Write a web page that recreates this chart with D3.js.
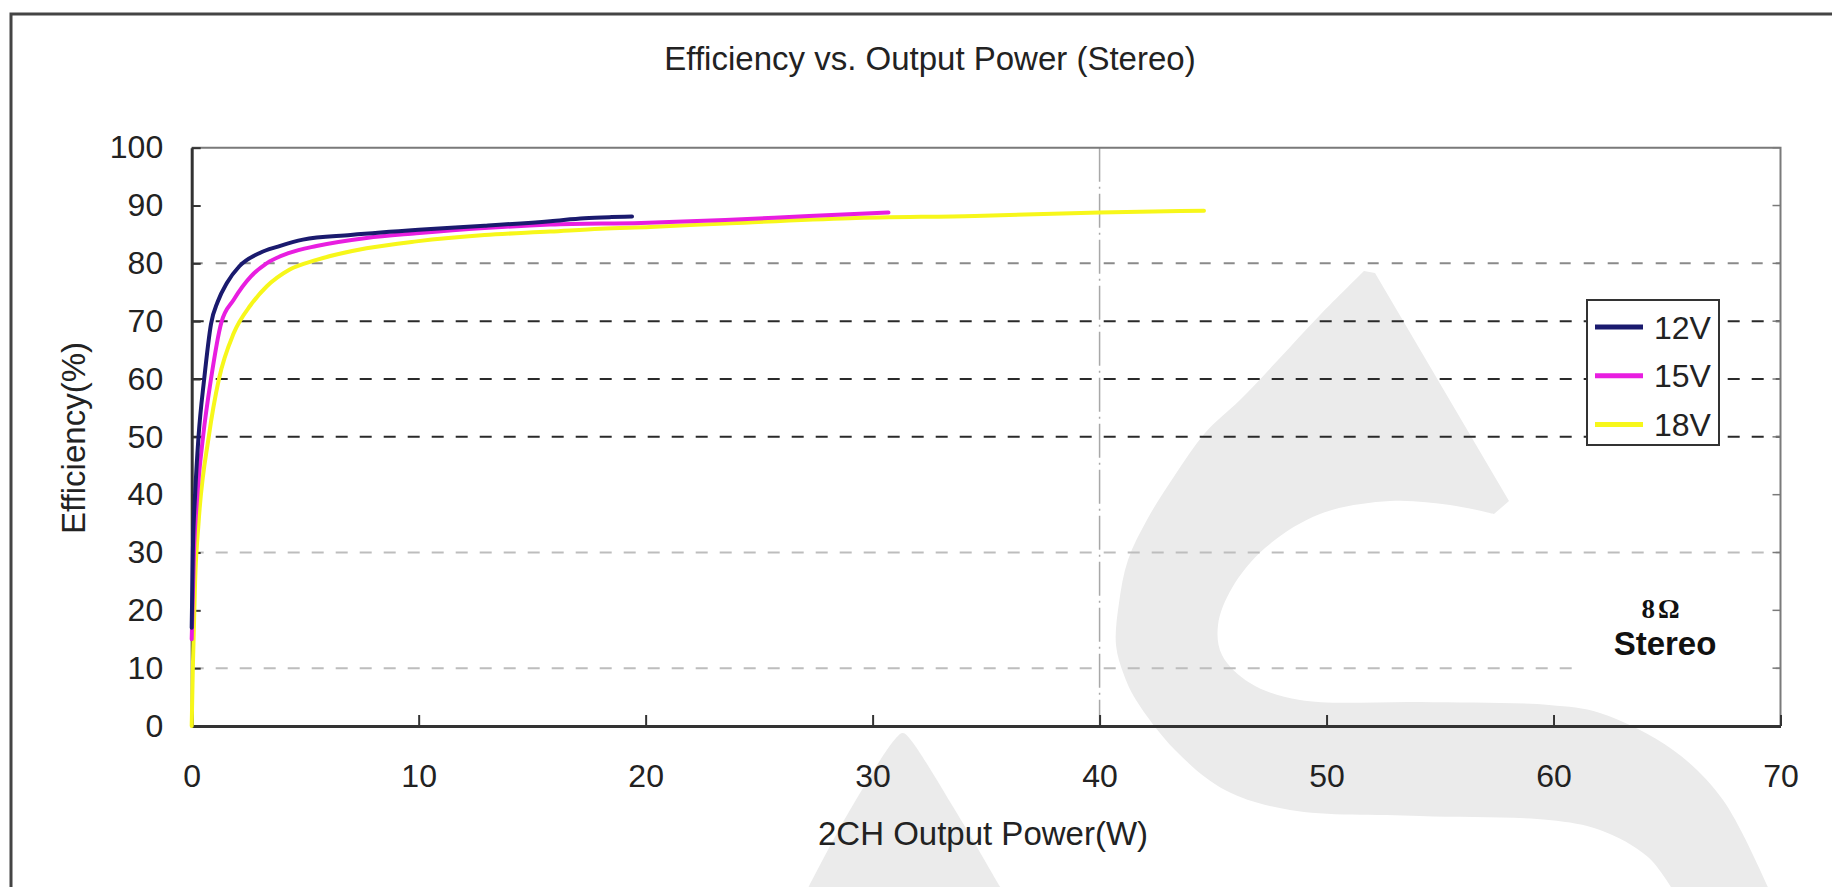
<!DOCTYPE html>
<html>
<head>
<meta charset="utf-8">
<script src="https://cdn.jsdelivr.net/npm/d3@7"></script>
<style>
  body { margin: 0; background: #fff; }
  svg { display: block; font-family: 'Liberation Sans', Arial, sans-serif; }
</style>
</head>
<body>
<svg id="chart" width="1832" height="887"></svg>
<script>
// values
const power12V = [0, 0.05, 0.15, 0.3, 0.55, 0.85, 1.15, 1.55, 2.1, 3.0, 3.8, 4.9, 7, 10, 12.9, 15.8, 17.3, 18.5, 19.4]
const eff12V = [17, 30, 40, 50, 60, 69.5, 73.4, 76.6, 79.5, 81.8, 82.9, 84.1, 84.9, 85.8, 86.5, 87.3, 87.8, 88.0, 88.1]
const power15V = [0, 0.1, 0.25, 0.5, 0.85, 1.3, 1.85, 2.6, 3.3, 4.3, 5.5, 7.7, 9.9, 12.9, 15.8, 19.8, 23.5, 27.2, 30.7]
const eff15V = [15, 30, 40, 50, 60, 69.7, 73.7, 77.7, 80, 81.8, 83, 84.4, 85.2, 86.1, 86.7, 87.0, 87.5, 88.2, 88.8]
const power18V = [0, 0.05, 0.15, 0.3, 0.75, 1.2, 1.85, 2.6, 3.3, 4.3, 5.5, 7.7, 9.9, 12.9, 15.8, 18, 20.2, 23.5, 29, 34.5, 40, 44.6]
const eff18V = [0, 10, 25, 35, 50, 60, 67.9, 72.8, 76, 78.9, 80.6, 82.6, 83.8, 84.9, 85.5, 86.0, 86.3, 86.9, 87.8, 88.2, 88.8, 89.1]

const seriesNames = ['12V', '15V', '18V']
const seriesColors = ['#1a1a6e', '#e81ee0', '#f7f71a']

const xTicks = [0, 10, 20, 30, 40, 50, 60, 70]
const yTicks = [0, 10, 20, 30, 40, 50, 60, 70, 80, 90, 100]
const darkGrid = [50, 60, 70]
const midGrid = [80]
const lightGrid = [10, 30]
const vGrid = [40]

// background watermark (page decoration, pixel space)
const wmOuter = [[1364, 271], [1320, 315], [1278, 360], [1240, 400], [1205, 433], [1175, 475], [1148, 518], [1128, 560],
  [1119, 603], [1116, 645], [1124, 675], [1136, 700], [1175, 750], [1225, 790], [1290, 810], [1420, 816], [1549, 820],
  [1600, 830], [1648, 857], [1674, 892]]
const wmInner = [[1770, 892], [1723, 800], [1673, 750], [1600, 713], [1549, 705], [1420, 702], [1300, 700], [1250, 683],
  [1222, 655], [1218, 625], [1232, 588], [1265, 548], [1320, 514], [1390, 501], [1450, 505], [1494, 514]]
const wmSmall = [[806, 892], [850, 810], [896, 738], [903, 733], [910, 739], [955, 810], [1003, 892]]

const svg = d3.select('#chart')
const margin = { left: 191.7, top: 147.7, right: 1780.5, bottom: 726 }

const x = d3.scaleLinear().domain([0, 70]).range([margin.left, margin.right])
const y = d3.scaleLinear().domain([0, 100]).range([margin.bottom, margin.top])

// watermark
const smooth = d3.line().curve(d3.curveCatmullRom)
svg.append('path')
  .attr('d', smooth(wmOuter) + smooth(wmInner).replace(/^M/, 'L') + 'L1509,501L1375,273Z')
  .attr('fill', '#ebebeb')
svg.append('path')
  .attr('d', smooth(wmSmall) + 'Z')
  .attr('fill', '#ebebeb')

// outer frame (only top and left edges are in view)
svg.append('path')
  .attr('d', 'M11,890V14H1832')
  .attr('fill', 'none')
  .attr('stroke', '#444')
  .attr('stroke-width', 3)

// title
svg.append('text')
  .attr('x', 930)
  .attr('y', 70)
  .attr('text-anchor', 'middle')
  .attr('font-size', 33)
  .attr('fill', '#222')
  .text('Efficiency vs. Output Power (Stereo)')

// gridlines
const grid = svg.append('g')
function hGrid (vals, color, dash) {
  grid.selectAll(null).data(vals).enter().append('line')
    .attr('x1', margin.left).attr('x2', margin.right)
    .attr('y1', d => y(d)).attr('y2', d => y(d))
    .attr('stroke', color)
    .attr('stroke-width', 2)
    .attr('stroke-dasharray', dash)
}
hGrid(lightGrid, '#bdbdbd', '12,12')
hGrid(midGrid, '#8a8a8a', '11,13')
hGrid(darkGrid, '#2a2a2a', '12,12')
grid.selectAll(null).data(vGrid).enter().append('line')
  .attr('x1', d => x(d)).attr('x2', d => x(d))
  .attr('y1', margin.top).attr('y2', margin.bottom)
  .attr('stroke', '#a8a8a8')
  .attr('stroke-width', 1.5)
  .attr('stroke-dasharray', '34,5,2,5')

// plot frame: top and right are lighter
svg.append('path')
  .attr('d', `M${margin.left},${margin.top}H${margin.right}V${margin.bottom}`)
  .attr('fill', 'none')
  .attr('stroke', '#7a7a7a')
  .attr('stroke-width', 2)

// right side inward ticks
svg.append('g').selectAll('line').data(yTicks).enter().append('line')
  .attr('x1', margin.right - 8).attr('x2', margin.right)
  .attr('y1', d => y(d)).attr('y2', d => y(d))
  .attr('stroke', '#7a7a7a')
  .attr('stroke-width', 1.5)

// white patch behind the load note
svg.append('rect')
  .attr('x', 1574).attr('y', 588)
  .attr('width', 198).attr('height', 100)
  .attr('fill', '#fff')

// axes
const xAxis = d3.axisBottom(x).tickValues(xTicks).tickSizeInner(-11).tickSizeOuter(0).tickPadding(38)
const yAxis = d3.axisLeft(y).tickValues(yTicks).tickSizeInner(-9).tickSizeOuter(0).tickPadding(28.5)

const gx = svg.append('g').attr('transform', `translate(0,${margin.bottom})`).call(xAxis)
const gy = svg.append('g').attr('transform', `translate(${margin.left},0)`).call(yAxis)
for (const g of [gx, gy]) {
  g.select('.domain').attr('stroke', '#333').attr('stroke-width', 3)
  g.selectAll('.tick line').attr('stroke', '#333').attr('stroke-width', 2)
  g.selectAll('.tick text').attr('font-size', 32).attr('fill', '#222')
    .attr('font-family', "'Liberation Sans', Arial, sans-serif")
}

// axis titles
svg.append('text')
  .attr('x', 983)
  .attr('y', 845)
  .attr('text-anchor', 'middle')
  .attr('font-size', 33)
  .attr('fill', '#222')
  .text('2CH Output Power(W)')

svg.append('text')
  .attr('transform', 'translate(73,438) rotate(-90)')
  .attr('text-anchor', 'middle')
  .attr('dy', '0.35em')
  .attr('font-size', 33)
  .attr('fill', '#222')
  .text('Efficiency(%)')

// curves
const series = [
  { name: seriesNames[0], xs: power12V, ys: eff12V },
  { name: seriesNames[1], xs: power15V, ys: eff15V },
  { name: seriesNames[2], xs: power18V, ys: eff18V }
]
const line = d3.line()
  .x(d => x(d[0]))
  .y(d => y(d[1]))
  .curve(d3.curveMonotoneX)

// draw 18V first so 12V ends up on top
series.slice().reverse().forEach(s => {
  const i = seriesNames.indexOf(s.name)
  svg.append('path')
    .datum(s.xs.map((v, k) => [v, s.ys[k]]))
    .attr('d', line)
    .attr('fill', 'none')
    .attr('stroke', seriesColors[i])
    .attr('stroke-width', 4)
    .attr('stroke-linejoin', 'round')
    .attr('stroke-linecap', 'round')
})

// legend
const legend = svg.append('g').attr('transform', 'translate(1587,300)')
legend.append('rect')
  .attr('width', 132).attr('height', 145)
  .attr('fill', '#fff')
  .attr('stroke', '#333')
  .attr('stroke-width', 2)
seriesNames.forEach((name, i) => {
  const row = legend.append('g').attr('transform', `translate(0,${27 + i * 48.7})`)
  row.append('line')
    .attr('x1', 8).attr('x2', 56)
    .attr('stroke', seriesColors[i])
    .attr('stroke-width', 5)
  row.append('text')
    .attr('x', 67)
    .attr('y', 11.5)
    .attr('font-size', 32)
    .attr('fill', '#222')
    .text(name)
})

// load note
svg.append('text')
  .attr('x', 1662)
  .attr('y', 618)
  .attr('text-anchor', 'middle')
  .attr('font-family', "'Liberation Serif', 'Times New Roman', serif")
  .attr('font-weight', 'bold')
  .attr('font-size', 27)
  .attr('letter-spacing', 3)
  .attr('fill', '#111')
  .text('8Ω')
svg.append('text')
  .attr('x', 1665)
  .attr('y', 655)
  .attr('text-anchor', 'middle')
  .attr('font-weight', 'bold')
  .attr('font-size', 33)
  .attr('fill', '#111')
  .text('Stereo')
</script>
</body>
</html>
